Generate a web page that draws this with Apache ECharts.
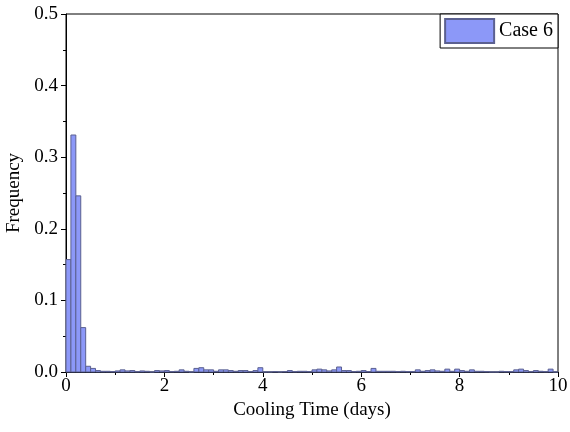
<!DOCTYPE html>
<html>
<head>
<meta charset="utf-8">
<script src="https://cdn.jsdelivr.net/npm/echarts@6/dist/echarts.min.js"></script>
<style>
  html, body { margin: 0; padding: 0; background: #fff; }
  #chart { width: 570px; height: 432px; }
</style>
</head>
<body>
<div id="chart"></div>
<script>
// histogram: 0.1 day bins from 0 to 10 days
var binWidth = 0.1;
var seriesName = 'Case 6';
var frequency = [
  0.157, 0.331, 0.246, 0.062, 0.008, 0.005, 0.002, 0.001, 0.001, 0.0005,
  0.0015, 0.003, 0.0015, 0.002, 0.0005, 0.0015, 0.001, 0.0, 0.002, 0.0015,
  0.002, 0.0005, 0.001, 0.003, 0.001, 0.0, 0.005, 0.006, 0.003, 0.003,
  0.001, 0.003, 0.003, 0.002, 0.001, 0.002, 0.002, 0.0005, 0.002, 0.006,
  0.0, 0.0, 0.0005, 0.0, 0.0005, 0.002, 0.0005, 0.001, 0.001, 0.0005,
  0.003, 0.004, 0.003, 0.0015, 0.003, 0.007, 0.002, 0.002, 0.0005, 0.001,
  0.002, 0.0005, 0.005, 0.001, 0.001, 0.001, 0.001, 0.0005, 0.001, 0.0005,
  0.0005, 0.003, 0.001, 0.002, 0.003, 0.0015, 0.001, 0.004, 0.001, 0.004,
  0.002, 0.001, 0.003, 0.001, 0.001, 0.0005, 0.0, 0.0, 0.001, 0.0005,
  0.0005, 0.003, 0.004, 0.002, 0.0005, 0.002, 0.001, 0.0005, 0.004, 0.0
];

var font = 'Liberation Serif';
var fontSize = 19;
var data = frequency.map(function (f, i) {
  return [i * binWidth, (i + 1) * binWidth, f];
});

var chart = echarts.init(document.getElementById('chart'));
chart.setOption({
  animation: false,
  grid: {
    left: 66, right: 12, top: 14, bottom: 60,
    outerBoundsMode: 'none',
    show: true, borderColor: '#000', borderWidth: 1
  },
  legend: {
    data: [seriesName],
    right: 12, top: 14,
    backgroundColor: '#fff',
    borderColor: '#000', borderWidth: 1, borderRadius: 0,
    padding: [4, 5, 4, 4],
    itemWidth: 49, itemHeight: 24, itemGap: 4,
    icon: 'rect',
    textStyle: { fontFamily: font, fontSize: 20, color: '#000' }
  },
  xAxis: {
    type: 'value', min: 0, max: 10, interval: 2,
    name: 'Cooling Time (days)', nameLocation: 'middle', nameGap: 25,
    nameTextStyle: { fontFamily: font, fontSize: fontSize, color: '#000' },
    axisLine: { onZero: false, lineStyle: { color: '#000', width: 1 } },
    axisTick: { inside: false, length: 5, lineStyle: { color: '#000' } },
    minorTick: { show: true, splitNumber: 2, length: 3, lineStyle: { color: '#000' } },
    axisLabel: { fontFamily: font, fontSize: fontSize, color: '#000', margin: 5 },
    splitLine: { show: false }
  },
  yAxis: {
    type: 'value', min: 0, max: 0.5, interval: 0.1,
    name: 'Frequency', nameLocation: 'middle', nameGap: 40,
    nameTextStyle: { fontFamily: font, fontSize: fontSize, color: '#000' },
    axisLine: { show: true, lineStyle: { color: '#000', width: 1 } },
    axisTick: { show: true, inside: false, length: 5, lineStyle: { color: '#000' } },
    minorTick: { show: true, splitNumber: 2, length: 3, lineStyle: { color: '#000' } },
    axisLabel: {
      fontFamily: font, fontSize: fontSize, color: '#000', margin: 8,
      formatter: function (v) { return v.toFixed(1); }
    },
    splitLine: { show: false }
  },
  series: [{
    name: seriesName,
    type: 'custom',
    itemStyle: { color: '#8c98f8', borderColor: '#5b6090', borderWidth: 1 },
    encode: { x: [0, 1], y: 2 },
    renderItem: function (params, api) {
      var p0 = api.coord([api.value(0), 0]);
      var p1 = api.coord([api.value(1), api.value(2)]);
      return {
        type: 'rect',
        shape: { x: p0[0], y: p1[1], width: p1[0] - p0[0], height: p0[1] - p1[1] },
        style: { fill: '#8c98f8', stroke: '#5b6090', lineWidth: 1 }
      };
    },
    data: data
  }]
});
</script>
</body>
</html>
